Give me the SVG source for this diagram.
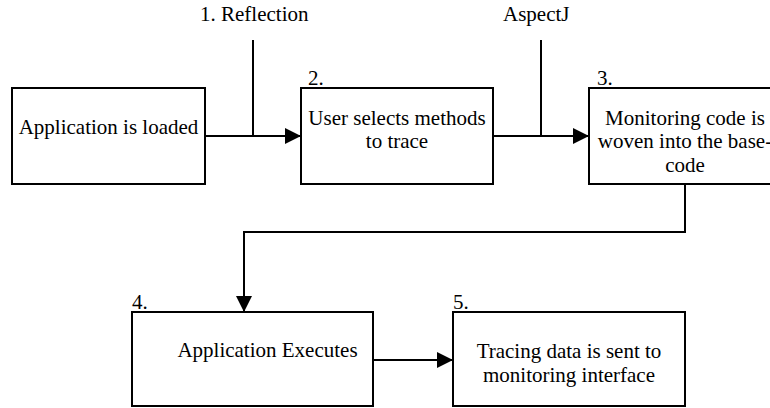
<svg xmlns="http://www.w3.org/2000/svg" width="770" height="408" viewBox="0 0 770 408">
  <defs>
    <marker id="arrow" viewBox="0 0 16 16" refX="16" refY="8" markerWidth="16" markerHeight="16" markerUnits="userSpaceOnUse" orient="auto">
      <path d="M0,0 L16,8 L0,16 Z" fill="#000000"/>
    </marker>
  </defs>

  <!-- connectors -->
  <g id="connectors" fill="none" stroke="#000000" stroke-width="2">
    <line x1="205" y1="136" x2="301" y2="136" marker-end="url(#arrow)"/>
    <line x1="253" y1="40" x2="253" y2="136"/>
    <line x1="493" y1="136" x2="589" y2="136" marker-end="url(#arrow)"/>
    <line x1="541" y1="40" x2="541" y2="136"/>
    <polyline points="685,184 685,232 244,232 244,312" marker-end="url(#arrow)"/>
    <line x1="373" y1="360" x2="453" y2="360" marker-end="url(#arrow)"/>
  </g>

  <!-- connector labels -->
  <g id="labels" font-family="Liberation Serif" font-size="21" fill="#000000">
    <text x="200" y="21">1. Reflection</text>
    <text x="503" y="21">AspectJ</text>
  </g>

  <g id="node-loaded" font-family="Liberation Serif" font-size="21">
    <rect x="12" y="88" width="193" height="96" fill="#ffffff" stroke="#000000" stroke-width="2"/>
    <text x="108.5" y="134" text-anchor="middle">Application is loaded</text>
  </g>

  <g id="node-select" font-family="Liberation Serif" font-size="21">
    <text x="308" y="85">2.</text>
    <rect x="301" y="88" width="192" height="96" fill="#ffffff" stroke="#000000" stroke-width="2"/>
    <text x="397" y="125" text-anchor="middle">User selects methods</text>
    <text x="397" y="148" text-anchor="middle">to trace</text>
  </g>

  <g id="node-weave" font-family="Liberation Serif" font-size="21">
    <text x="597" y="85">3.</text>
    <rect x="589" y="88" width="192" height="96" fill="#ffffff" stroke="#000000" stroke-width="2"/>
    <text x="685" y="125" text-anchor="middle">Monitoring code is</text>
    <text x="685" y="148" text-anchor="middle">woven into the base-</text>
    <text x="685" y="172" text-anchor="middle">code</text>
  </g>

  <g id="node-execute" font-family="Liberation Serif" font-size="21">
    <text x="132" y="309">4.</text>
    <rect x="132" y="312" width="241" height="94" fill="#ffffff" stroke="#000000" stroke-width="2"/>
    <text x="267.5" y="357" text-anchor="middle">Application Executes</text>
  </g>

  <g id="node-send" font-family="Liberation Serif" font-size="21">
    <text x="453" y="309">5.</text>
    <rect x="453" y="312" width="232" height="94" fill="#ffffff" stroke="#000000" stroke-width="2"/>
    <text x="569" y="358" text-anchor="middle">Tracing data is sent to</text>
    <text x="569" y="382" text-anchor="middle">monitoring interface</text>
  </g>
</svg>
